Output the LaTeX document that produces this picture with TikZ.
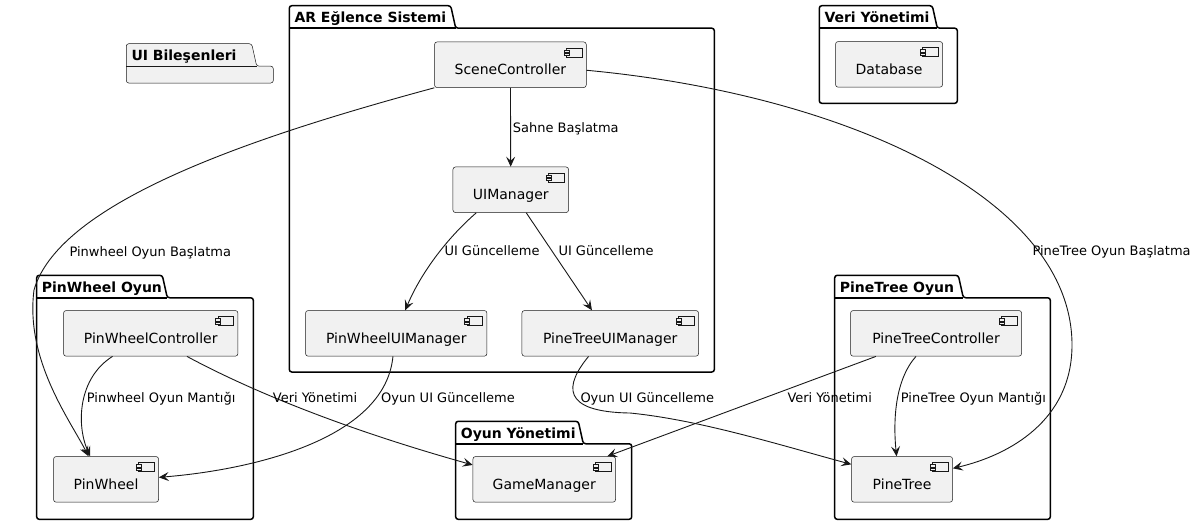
\documentclass[tikz,border=0pt]{standalone}
\usepackage{fontspec}
\setmainfont{DejaVu Sans}
\usetikzlibrary{arrows.meta}

\definecolor{compfill}{HTML}{F1F1F1}
\definecolor{compline}{HTML}{181818}

\tikzset{
    comp/.style={draw=compline, fill=compfill, line width=0.5pt, rounded corners=2.5pt,
        font=\fontsize{14}{16}\selectfont, inner xsep=0pt, inner ysep=0pt,
        text height=32.7pt, text depth=12.9pt, minimum width=#1, anchor=north west,
        path picture={
            \draw[compline, line width=0.5pt, fill=compfill, sharp corners]
                ([xshift=-20pt,yshift=-6pt]path picture bounding box.north east) rectangle ++(15.5pt,-9pt);
            \draw[compline, line width=0.5pt, fill=compfill, sharp corners]
                ([xshift=-22.5pt,yshift=-8pt]path picture bounding box.north east) rectangle ++(5pt,-2.2pt)
                ([xshift=-22.5pt,yshift=-11.5pt]path picture bounding box.north east) rectangle ++(5pt,-2.2pt);
        }},
    pkg/.style={draw=black, line width=1.5pt, rounded corners=2.5pt},
    emptypkg/.style={draw=compline, line width=0.5pt, fill=compfill, rounded corners=2.5pt},
    pkgtitle/.style={font=\fontsize{14}{16}\selectfont\bfseries, inner sep=0pt, anchor=base west},
    lbl/.style={font=\fontsize{13}{15}\selectfont, inner sep=0pt, anchor=base west},
    conn/.style={draw=compline, line width=0.9pt}
}

% style, name, left, tab top, right, bottom, tab width, title
\newcommand{\pkgframe}[8]{%
    \draw[#1] (#3+#7+5,#4+22.5) -- (#5,#4+22.5) -- (#5,#6) -- (#3,#6) -- (#3,#4) -- (#3+#7,#4) -- cycle;
    \draw[#1, sharp corners] (#3,#4+22.5) -- (#3+#7+5,#4+22.5);
    \node[pkgtitle] (#2) at (#3+5,#4+17) {#8};
}

\begin{document}
\begin{tikzpicture}[x=1pt, y=-1pt, >={Stealth[length=10pt, width=9pt, inset=4pt]}]

    \useasboundingbox (0,0) rectangle (1199,525);

    % Packages
    \pkgframe{pkg}{arpkg}{289.3}{5.7}{714.3}{372}{161.4}{AR Eğlence Sistemi}
    \pkgframe{pkg}{veripkg}{819.3}{5.7}{957.3}{103.3}{113}{Veri Yönetimi}
    \pkgframe{emptypkg}{uipkg}{126.3}{43.7}{273.3}{83}{125.4}{UI Bileşenleri}
    \pkgframe{pkg}{pwpkg}{36.7}{275.3}{253.3}{519.3}{125.6}{PinWheel Oyun}
    \pkgframe{pkg}{oyunpkg}{455.7}{421.3}{631.7}{519.3}{122.6}{Oyun Yönetimi}
    \pkgframe{pkg}{ptpkg}{834.7}{275.3}{1050.3}{519.3}{123.6}{PineTree Oyun}

    % Components
    \node[comp=151.7pt] (scene) at (434.3,41.7) {SceneController\hspace{10pt}};
    \node[comp=115.6pt] (uimgr) at (452.7,166.7) {UIManager\hspace{10pt}};
    \node[comp=181.4pt] (pwui) at (305.3,310.3) {PinWheelUIManager\hspace{10pt}};
    \node[comp=176.6pt] (ptui) at (521.7,310.3) {PineTreeUIManager\hspace{10pt}};
    \node[comp=107pt] (db) at (835.3,41.3) {Database\hspace{10pt}};
    \node[comp=174.4pt] (pwc) at (63.3,310.3) {PinWheelController\hspace{10pt}};
    \node[comp=105pt] (pw) at (53.3,456.3) {PinWheel\hspace{10pt}};
    \node[comp=142.6pt] (gm) at (472.7,456.3) {GameManager\hspace{10pt}};
    \node[comp=171pt] (ptc) at (850.3,310.3) {PineTreeController\hspace{10pt}};
    \node[comp=101pt] (pt) at (851.3,456.3) {PineTree\hspace{10pt}};

    % Connectors
    \draw[conn, ->] (scene) -- (uimgr);
    \draw[conn, ->] (scene.south west) .. controls (260,135) and (60,200) .. (34,290)
        .. controls (25,360) and (70,420) .. ([xshift=-17.5pt]pw.north);
    \draw[conn, ->] ([yshift=-5.5pt]scene.east) .. controls (850,95) and (1072,200) .. (1072,345)
        .. controls (1072,420) and (1010,455) .. ([yshift=11pt]pt.east);
    \draw[conn, ->] ([xshift=-34.5pt]uimgr.south) .. controls (445,240) and (420,275) .. ([xshift=9pt]pwui.north);
    \draw[conn, ->] ([xshift=15.5pt]uimgr.south) -- ([xshift=-18.3pt]ptui.north);
    \draw[conn, ->] ([xshift=-38.2pt]pwc.south) .. controls (78,378) and (76,425) .. ([xshift=-15.8pt]pw.north);
    \draw[conn, ->] ([xshift=36.2pt]pwc.south) .. controls (240,385) and (330,425) .. ([yshift=14.4pt]gm.west);
    \draw[conn, ->] ([xshift=-3.3pt]pwui.south) .. controls (385,440) and (250,470) .. ([yshift=2pt]pw.east);
    \draw[conn, ->] ([xshift=-21.7pt]ptui.south) .. controls (565,385) and (560,412) .. (630,413)
        .. controls (700,420) and (780,445) .. ([yshift=15pt]pt.west);
    \draw[conn, ->] ([xshift=-60.1pt]ptc.south) -- ([xshift=-8.6pt]gm.north east);
    \draw[conn, ->] ([xshift=-20.1pt]ptc.south) .. controls (895,380) and (893,420) .. ([xshift=-5.5pt]pt.north);

    % Connector labels
    \node[lbl] (lsahne) at (512.7,132) {Sahne Başlatma};
    \node[lbl] (lpwstart) at (69.3,256) {Pinwheel Oyun Başlatma};
    \node[lbl] (luipw) at (444.3,255) {UI Güncelleme};
    \node[lbl] (luipt) at (558.3,255) {UI Güncelleme};
    \node[lbl] (lptstart) at (1032.3,255) {PineTree Oyun Başlatma};
    \node[lbl] (lpwlogic) at (86.7,402) {Pinwheel Oyun Mantığı};
    \node[lbl] (lpwdata) at (272.7,402) {Veri Yönetimi};
    \node[lbl] (lpwui) at (381,402) {Oyun UI Güncelleme};
    \node[lbl] (lptui) at (580.3,402) {Oyun UI Güncelleme};
    \node[lbl] (lptdata) at (787.3,402) {Veri Yönetimi};
    \node[lbl] (lptlogic) at (900.7,402) {PineTree Oyun Mantığı};
\end{tikzpicture}
\end{document}
